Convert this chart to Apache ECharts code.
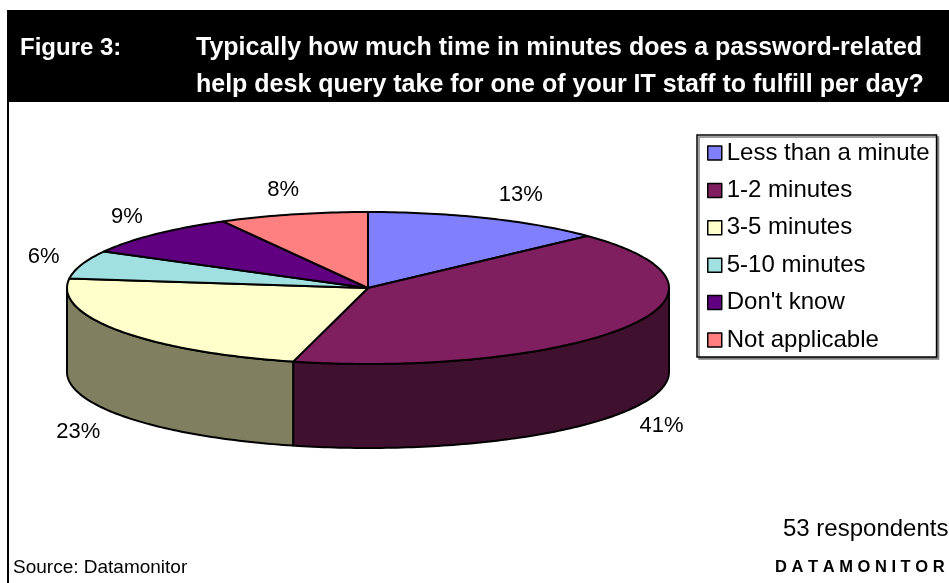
<!DOCTYPE html>
<html>
<head>
<meta charset="utf-8">
<script src="https://cdn.jsdelivr.net/npm/echarts@6/dist/echarts.min.js"></script>
<style>
  html, body { margin: 0; padding: 0; background: #fff; }
  #chart { width: 949px; height: 583px; }
</style>
</head>
<body>
<div id="chart"></div>
<script>
// Survey answers and their shares (percent)
const categories = ['Less than a minute', '1-2 minutes', '3-5 minutes', '5-10 minutes', "Don't know", 'Not applicable'];
const shares = [13, 41, 23, 6, 9, 8];
const topColors = ['#8080FF', '#7F1F5F', '#FFFFCC', '#A0E0E0', '#600080', '#FF8080'];
const sideColors = ['#404080', '#40102F', '#808060', '#507070', '#300040', '#804040'];

const titleLines = [
  'Typically how much time in minutes does a password-related',
  'help desk query take for one of your IT staff to fulfill per day?'
];

const FONT = '"Liberation Sans", Arial, sans-serif';

// Tilted-pie geometry
const CX = 368, CY = 288, RX = 301, RY = 76, DEPTH = 84;

const total = shares.reduce((a, b) => a + b, 0);

function pt(deg, dy) {
  const r = deg * Math.PI / 180;
  return [CX + RX * Math.sin(r), CY - RY * Math.cos(r) + (dy || 0)];
}
function arc(s, e, dy) {
  const pts = [];
  const n = Math.max(2, Math.ceil(e - s));
  for (let j = 0; j <= n; j++) pts.push(pt(s + (e - s) * j / n, dy));
  return pts;
}

function renderSlice(params, api) {
  const i = params.dataIndex;
  let before = 0;
  for (let k = 0; k < i; k++) before += shares[k];
  const v = api.value(0);
  const a0 = before / total * 360;
  const a1 = (before + v) / total * 360;
  const children = [];

  // front wall (visible only on the lower half of the ellipse)
  const s0 = Math.max(a0, 90), s1 = Math.min(a1, 270);
  if (s1 > s0) {
    const upper = arc(s0, s1, 0);
    const lower = arc(s0, s1, DEPTH).reverse();
    children.push({
      type: 'polygon',
      shape: { points: upper.concat(lower) },
      style: { fill: sideColors[i], stroke: '#000', lineWidth: 2, lineJoin: 'round' }
    });
  }

  // top face
  children.push({
    type: 'polygon',
    shape: { points: [[CX, CY]].concat(arc(a0, a1, 0)) },
    style: { fill: topColors[i], stroke: '#000', lineWidth: 2, lineJoin: 'round' }
  });

  // percentage label outside the rim; diagonal quadrants sit a little further out
  const mid = (a0 + a1) / 2 * Math.PI / 180;
  const c = Math.cos(mid), s = Math.sin(mid);
  const diagOut = 120 * Math.max(0, c) * Math.max(0, s) + 20 * Math.max(0, -c) * Math.max(0, -s);
  const lx = CX + (RX + 40 + diagOut) * s;
  const ly = CY - (RY + 25) * c + (c < 0 ? DEPTH + 3 : 0);
  children.push({
    type: 'text',
    x: lx, y: ly,
    style: {
      text: v + '%', fill: '#000', font: '22px ' + FONT,
      align: 'center', verticalAlign: 'middle'
    }
  });

  return { type: 'group', children: children };
}

const chart = echarts.init(document.getElementById('chart'), null, { renderer: 'canvas' });

chart.setOption({
  animation: false,
  backgroundColor: '#fff',
  graphic: [
    { type: 'rect', z: -10, shape: { x: 7, y: 10, width: 942, height: 92 }, style: { fill: '#000' } },
    { type: 'rect', z: -10, shape: { x: 7, y: 100, width: 2, height: 483 }, style: { fill: '#000' } }
  ],
  title: [
    {
      text: 'Figure 3:', left: 20, top: 30, padding: 0, z: 10,
      textStyle: { color: '#fff', fontWeight: 'bold', fontSize: 24, fontFamily: FONT, lineHeight: 37 }
    },
    {
      text: titleLines.join('\n'), left: 196, top: 30, padding: 0, z: 10,
      textStyle: { color: '#fff', fontWeight: 'bold', fontSize: 25, fontFamily: FONT, lineHeight: 37 }
    },
    {
      text: '53 respondents', left: 783, top: 517, padding: 0,
      textStyle: { color: '#000', fontWeight: 'normal', fontSize: 24, fontFamily: FONT }
    },
    {
      text: 'Source: Datamonitor', left: 13, top: 558, padding: 0,
      textStyle: { color: '#000', fontWeight: 'normal', fontSize: 19, fontFamily: FONT }
    },
    {
      text: 'D A T A M O N I T O R', left: 775, top: 559, padding: 0,
      textStyle: { color: '#000', fontWeight: 'bold', fontSize: 16.5, fontFamily: FONT }
    }
  ],
  legend: {
    orient: 'vertical',
    left: 697, top: 135,
    padding: [6, 7, 5, 10],
    itemGap: 13.4,
    itemWidth: 14, itemHeight: 14,
    icon: 'rect',
    backgroundColor: '#fff',
    borderColor: '#000', borderWidth: 1.5,
    shadowColor: '#808080', shadowOffsetX: 2, shadowOffsetY: 2, shadowBlur: 0,
    itemStyle: { borderColor: '#000', borderWidth: 1.5 },
    textStyle: { color: '#000', fontSize: 24, fontFamily: FONT, lineHeight: 24 },
    data: categories
  },
  series: [
    {
      type: 'custom',
      coordinateSystem: 'none',
      renderItem: renderSlice,
      data: shares,
      silent: true
    },
    {
      // zero-size pie supplying the legend entries
      type: 'pie',
      radius: [0, 0],
      center: [CX, CY],
      silent: true,
      label: { show: false },
      labelLine: { show: false },
      data: categories.map((name, i) => ({ name: name, value: shares[i], itemStyle: { color: topColors[i] } }))
    }
  ]
});
</script>
</body>
</html>
